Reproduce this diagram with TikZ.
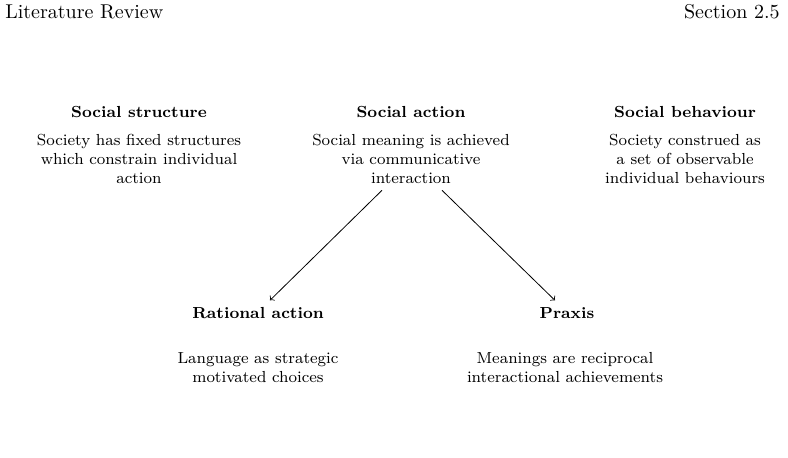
\documentclass[tikz,border=0pt]{standalone}
\begin{document}
\begin{tikzpicture}[x=0.5pt,y=-0.5pt,
  title/.style={font=\footnotesize\bfseries, align=center},
  body/.style={font=\footnotesize, align=center},
  hdr/.style={font=\normalsize, inner sep=0pt},
  link/.style={->, line width=0.4pt}]
\useasboundingbox (0,0) rectangle (788,457);
\node[hdr, anchor=west] (lr) at (5,12) {Literature Review};
\node[hdr, anchor=east] (sec) at (780,12) {Section 2.5};

\node[title] (sst) at (139,112) {Social structure};
\node[body] (ssb) at (139,158.5) {Society has fixed structures\\which constrain individual\\action};

\node[title] (sat) at (411,112) {Social action};
\node[body] (sab) at (411,158.5) {Social meaning is achieved\\via communicative\\interaction};

\node[title] (sbt) at (685,112) {Social behaviour};
\node[body] (sbb) at (685,158.5) {Society construed as\\a set of observable\\individual behaviours};

\node[title] (rat) at (258,313) {Rational action};
\node[body] (rab) at (258,367.5) {Language as strategic\\motivated choices};

\node[title] (pxt) at (567,313) {Praxis};
\node[body] (pxb) at (565,367.5) {Meanings are reciprocal\\interactional achievements};

\draw[link] ([xshift=-14.5pt]sab.south) -- ([xshift=6pt]rat.north);
\draw[link] ([xshift=15.5pt]sab.south) -- ([xshift=-6pt]pxt.north);
\end{tikzpicture}
\end{document}
